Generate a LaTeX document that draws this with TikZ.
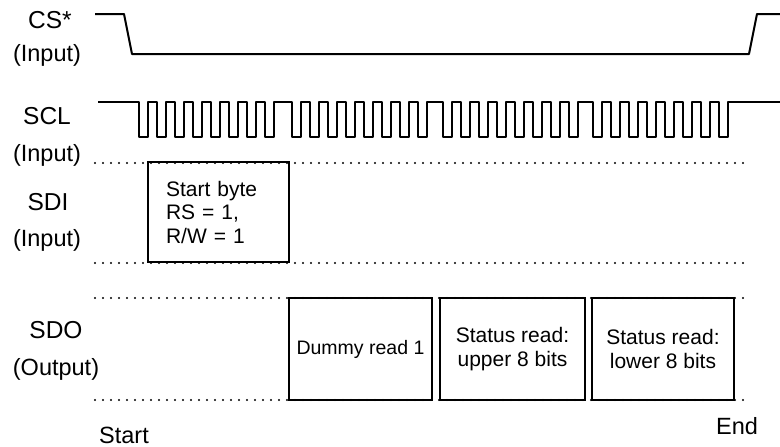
\documentclass[tikz,border=0pt]{standalone}
\usepackage{fontspec}
\setmainfont{Liberation Sans}
\begin{document}
\begin{tikzpicture}[x=1pt,y=-1pt,
  lbl/.style={font=\fontsize{24.5}{28}\selectfont, inner sep=0pt},
  sublbl/.style={font=\fontsize{23.5}{27}\selectfont, inner sep=0pt},
  wave/.style={line width=2pt, line join=round},
  dotline/.style={line width=2.3pt, line cap=round, dash pattern=on 0pt off 8pt},
  databox/.style={draw, line width=2pt, minimum height=102pt, inner sep=0pt,
     font=\fontsize{21}{24}\selectfont, align=center}
]
\useasboundingbox (0,0) rectangle (780,447);

% signal labels
\node[lbl] (cs) at (50,20) {CS*};
\node[sublbl] (csin) at (47,55) {(Input)};
\node[lbl] (scl) at (47,116) {SCL};
\node[sublbl] (sclin) at (47,155) {(Input)};
\node[lbl] (sdi) at (48,202) {SDI};
\node[sublbl] (sdiin) at (47,240) {(Input)};
\node[lbl] (sdo) at (56,330) {SDO};
\node[sublbl] (sdoout) at (56,369) {(Output)};
\node[sublbl] (start) at (124,435) {Start};
\node[sublbl] (end) at (737,426) {End};

% CS* waveform
\draw[wave] (95,14) -- (124,14) -- (132,54) -- (749,54) -- (757,14) -- (780,14);

% SCL waveform
\draw[wave] (98,102)
  \foreach \f in {139,292,443,593}{
    \foreach \k in {0,...,7}{
      -- ({\f+\k*18},102) -- ({\f+\k*18},137) -- ({\f+\k*18+9},137) -- ({\f+\k*18+9},102)
    }
  } -- (780,102);

% dotted guide lines
\coordinate (d1a) at (95,163); \coordinate (d1b) at (750,163);
\coordinate (d2a) at (95,263); \coordinate (d2b) at (750,263);
\coordinate (d3a) at (95,298); \coordinate (d3b) at (750,298);
\coordinate (d4a) at (95,400); \coordinate (d4b) at (750,400);

% SDI box
\node[databox, minimum height=100pt, text width=105pt, inner xsep=18pt, align=left,
  font=\fontsize{21}{23.5}\selectfont] (sb) at (218.5,212) {Start byte\\RS = 1,\\R/W = 1};

% SDO boxes
\node[databox, minimum width=143pt, font=\fontsize{19.5}{22}\selectfont] (dr) at (360.5,349) {Dummy read 1};
\node[databox, minimum width=145pt] (su) at (512.5,349) {Status read:\\upper 8 bits};
\node[databox, minimum width=142pt] (sl) at (663,349) {Status read:\\lower 8 bits};

\draw[dotline] (d1a) -- (d1b);
\draw[dotline] (d2a) -- (d2b);
\draw[dotline] (d3a) -- (d3b);
\draw[dotline] (d4a) -- (d4b);
\end{tikzpicture}
\end{document}
